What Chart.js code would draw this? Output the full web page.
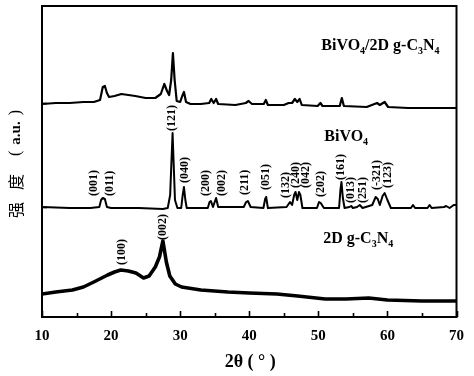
<!DOCTYPE html>
<html><head><meta charset="utf-8">
<script src="https://cdn.jsdelivr.net/npm/chart.js@4/dist/chart.umd.min.js"></script>
<style>html,body{margin:0;padding:0;background:#fff}#wrap{width:474px;height:376px}</style>
</head><body><div id="wrap"><canvas id="c" width="474" height="376"></canvas></div>
<script>
// ---- data (2θ in degrees, intensity in arbitrary units, curves offset as in the figure) ----
const compositeTheta = [10,12,14,16,17.5,18.4,18.8,19.1,19.4,19.7,20.5,21.5,22.5,23.5,25,26.4,27.2,27.7,28.1,28.4,28.7,28.95,29.2,29.5,30,30.3,30.55,30.85,31.5,33,34.2,34.5,34.85,35.2,35.5,38,39.5,39.9,40.4,42.1,42.4,42.7,45,45.7,46.2,46.6,46.95,47.3,47.6,49.9,50.3,50.6,53.1,53.4,53.7,57,58.5,58.9,59.6,60.1,63,66,70];
const compositeIntensity = [213,214,214,215,215,217,230,231,224,220,221,223,222,221,219,219,223,233,226,222,237,264,237,216,215,221,225,215,213,213,214,218,214,218,213,212,214,216,213,213,217,212,212,214,214,218,215,218,212,211,214,211,211,219,211,210,214,212,215,210,209,209,209];

const bivo4Theta = [10,14,17,18.3,18.55,18.8,19.1,19.4,20,24,27.5,28.2,28.55,28.9,29.25,29.6,30.15,30.35,30.55,30.75,30.95,34,34.25,34.45,34.75,34.95,35.2,35.5,39.2,39.55,39.8,40.2,42.05,42.3,42.45,42.7,45.4,45.9,46.2,46.5,46.7,46.95,47.2,47.4,47.7,49.8,50.1,50.35,50.8,53,53.2,53.35,53.55,53.8,54.5,54.75,55,55.6,56,56.4,57.8,58.3,58.6,58.9,59.3,59.6,60,60.5,63.4,63.7,64,65.8,66.1,66.4,68.2,68.5,69,69.6,70];
const bivo4Intensity = [110,109,109,110,117,119,118,110,109,109,108,109,122,184,117,109,109,121,130,117,109,109,115,116,110,114,119,110,110,115,116,110,109,118,120,109,110,115,112,122,125,117,125,122,109,109,115,114,109,109,127,135,119,109,110,111,109,110,112,109,112,120,118,112,121,124,117,109,109,112,109,109,112,109,110,111,109,112,112];

const gc3n4Theta = [10,12,14.4,16,17.5,19.5,20.5,21.4,22.5,23.6,24.7,25.5,26.4,27,27.5,28,28.5,29.3,30.2,33,36.9,40,44,47,51,54,57.3,60,65,70];
const gc3n4Intensity = [23,25,27,30,35,42,45,47,46,44,39,41,50,60,76,55,41,33,30,27,25,24,23,21,18,18,19,17,16,16];

// x-axis tick values
const xTickMin = 10, xTickMax = 70, xMajorStep = 10, xMinorStep = 5;
// baseline markers on the left axis (offsets of the stacked curves)
const yMarkers = [110, 214];

// peak (hkl) labels
const peakLabels = ['(001)','(011)','(121)','(040)','(200)','(002)','(211)','(051)','(132)','(240)','(042)','(202)','(161)','(013)','(251)','(-321)','(123)','(100)','(002)'];
const peakLabelTheta = [17.57,19.86,28.86,30.71,33.71,36.0,39.43,42.43,45.29,46.71,48.14,50.43,53.29,54.71,56.43,58.43,60.14,21.57,27.57];
const peakLabelIntensity = [121,121,186,134,121,121,122,127,119,129,129,120,137,114,114,127,129,52,77];

// series names ("_n" = subscript digit)
const seriesNames = ['BiVO_4/2D g-C_3N_4', 'BiVO_4', '2D g-C_3N_4'];
const seriesNameTheta = [50.43, 50.86, 50.71];
const seriesNameIntensity = [267, 176, 74];

const xTitle = '2θ ( ° )';
const yTitleParts = ['强', '度', '(', 'a.u.', ')'];

function pts(t, v){ return t.map((x,i)=>({x:x, y:v[i]})); }

const SERIF = "'Liberation Serif','Times New Roman',serif";
const CJK = "'Noto Sans CJK SC','Noto Sans CJK JP',sans-serif";

function drawRuns(ctx, runs, x, y){
  let cx = x;
  for (const r of runs){
    cx += (r.pre||0);
    ctx.font = r.font;
    ctx.fillText(r.text, cx, y + (r.dy||0));
    cx += ctx.measureText(r.text).width + (r.gap||0);
  }
}
function nameRuns(name, size){
  const runs = [];
  const re = /_(\d)/g;
  let last = 0, m;
  while ((m = re.exec(name))){
    if (m.index > last) runs.push({text:name.slice(last, m.index), font:'bold '+size+'px '+SERIF});
    runs.push({text:m[1], font:'bold '+Math.round(size*0.62)+'px '+SERIF, dy: Math.round(size*0.28)});
    last = m.index + m[0].length;
  }
  if (last < name.length) runs.push({text:name.slice(last), font:'bold '+size+'px '+SERIF});
  return runs;
}

const decor = {
  id:'decor',
  afterDraw(chart){
    const ctx = chart.ctx, a = chart.chartArea;
    const xs = chart.scales.x, ys = chart.scales.y;
    ctx.save();
    ctx.strokeStyle = '#000'; ctx.fillStyle = '#000';
    // frame
    ctx.lineWidth = 2;
    ctx.strokeRect(a.left, a.top, a.right - a.left, a.bottom - a.top);
    // inward x ticks
    ctx.lineWidth = 1.6;
    for (let v = xTickMin; v <= xTickMax + 1e-9; v += xMinorStep){
      const px = Math.round(xs.getPixelForValue(v)) + 0.5;
      const len = (Math.abs(v % xMajorStep) < 1e-9) ? 6 : 4;
      ctx.beginPath(); ctx.moveTo(px, a.bottom); ctx.lineTo(px, a.bottom - len); ctx.stroke();
    }
    // left-axis markers
    for (const m of yMarkers){
      const py = Math.round(ys.getPixelForValue(m)) + 0.5;
      ctx.beginPath(); ctx.moveTo(a.left, py); ctx.lineTo(a.left + 5, py); ctx.stroke();
    }
    // hkl labels (rotated)
    ctx.font = 'bold 12px ' + SERIF;
    ctx.textAlign = 'left'; ctx.textBaseline = 'middle';
    peakLabels.forEach((t,i)=>{
      const px = xs.getPixelForValue(peakLabelTheta[i]);
      const py = ys.getPixelForValue(peakLabelIntensity[i]);
      ctx.save(); ctx.translate(px, py); ctx.rotate(-Math.PI/2);
      ctx.fillText(t, 0, 0); ctx.restore();
    });
    // series names
    ctx.textBaseline = 'alphabetic';
    seriesNames.forEach((n,i)=>{
      drawRuns(ctx, nameRuns(n, 16), xs.getPixelForValue(seriesNameTheta[i]), ys.getPixelForValue(seriesNameIntensity[i]));
    });
    // x title
    ctx.font = 'bold 18px ' + SERIF;
    ctx.textAlign = 'center'; ctx.textBaseline = 'middle';
    ctx.fillText(xTitle, (a.left + a.right)/2 + 1, 362);
    // y title (rotated)
    ctx.save();
    ctx.translate(16, 218); ctx.rotate(-Math.PI/2);
    ctx.textAlign = 'left'; ctx.textBaseline = 'middle';
    drawRuns(ctx, [
      {text:yTitleParts[0], font:'16px '+CJK, gap:12},
      {text:yTitleParts[1], font:'16px '+CJK, gap:18},
      {text:yTitleParts[2], font:'16px '+SERIF, gap:6},
      {text:yTitleParts[3], font:'bold 15px '+SERIF, gap:6},
      {text:yTitleParts[4], font:'16px '+SERIF}
    ], 0, 0);
    ctx.restore();
    ctx.restore();
  }
};

const lineStyle = (w)=>({showLine:true, borderColor:'#000', backgroundColor:'#000', borderWidth:w, pointRadius:0, tension:0, borderJoinStyle:'round', borderCapStyle:'round'});

new Chart(document.getElementById('c'), {
  type:'scatter',
  data:{datasets:[
    Object.assign({label:'BiVO4/2D g-C3N4', data:pts(compositeTheta, compositeIntensity)}, lineStyle(2.2)),
    Object.assign({label:'BiVO4', data:pts(bivo4Theta, bivo4Intensity)}, lineStyle(2)),
    Object.assign({label:'2D g-C3N4', data:pts(gc3n4Theta, gc3n4Intensity)}, lineStyle(3.6))
  ]},
  options:{
    responsive:false, animation:false, devicePixelRatio:1,
    layout:{padding:{top:6, right:12, left:0, bottom:0}},
    plugins:{legend:{display:false}, tooltip:{enabled:false}},
    scales:{
      x:{type:'linear', min:xTickMin, max:xTickMax,
         ticks:{stepSize:xMajorStep, color:'#000', padding:10, maxRotation:0, font:{family:SERIF, weight:'bold', size:15}},
         grid:{display:false, drawTicks:false}, border:{display:false},
         afterFit(s){ s.height = 59; }},
      y:{min:0, max:311, ticks:{display:false}, grid:{display:false, drawTicks:false}, border:{display:false},
         afterFit(s){ s.width = 42; }}
    }
  },
  plugins:[decor]
});
</script>
</body></html>
